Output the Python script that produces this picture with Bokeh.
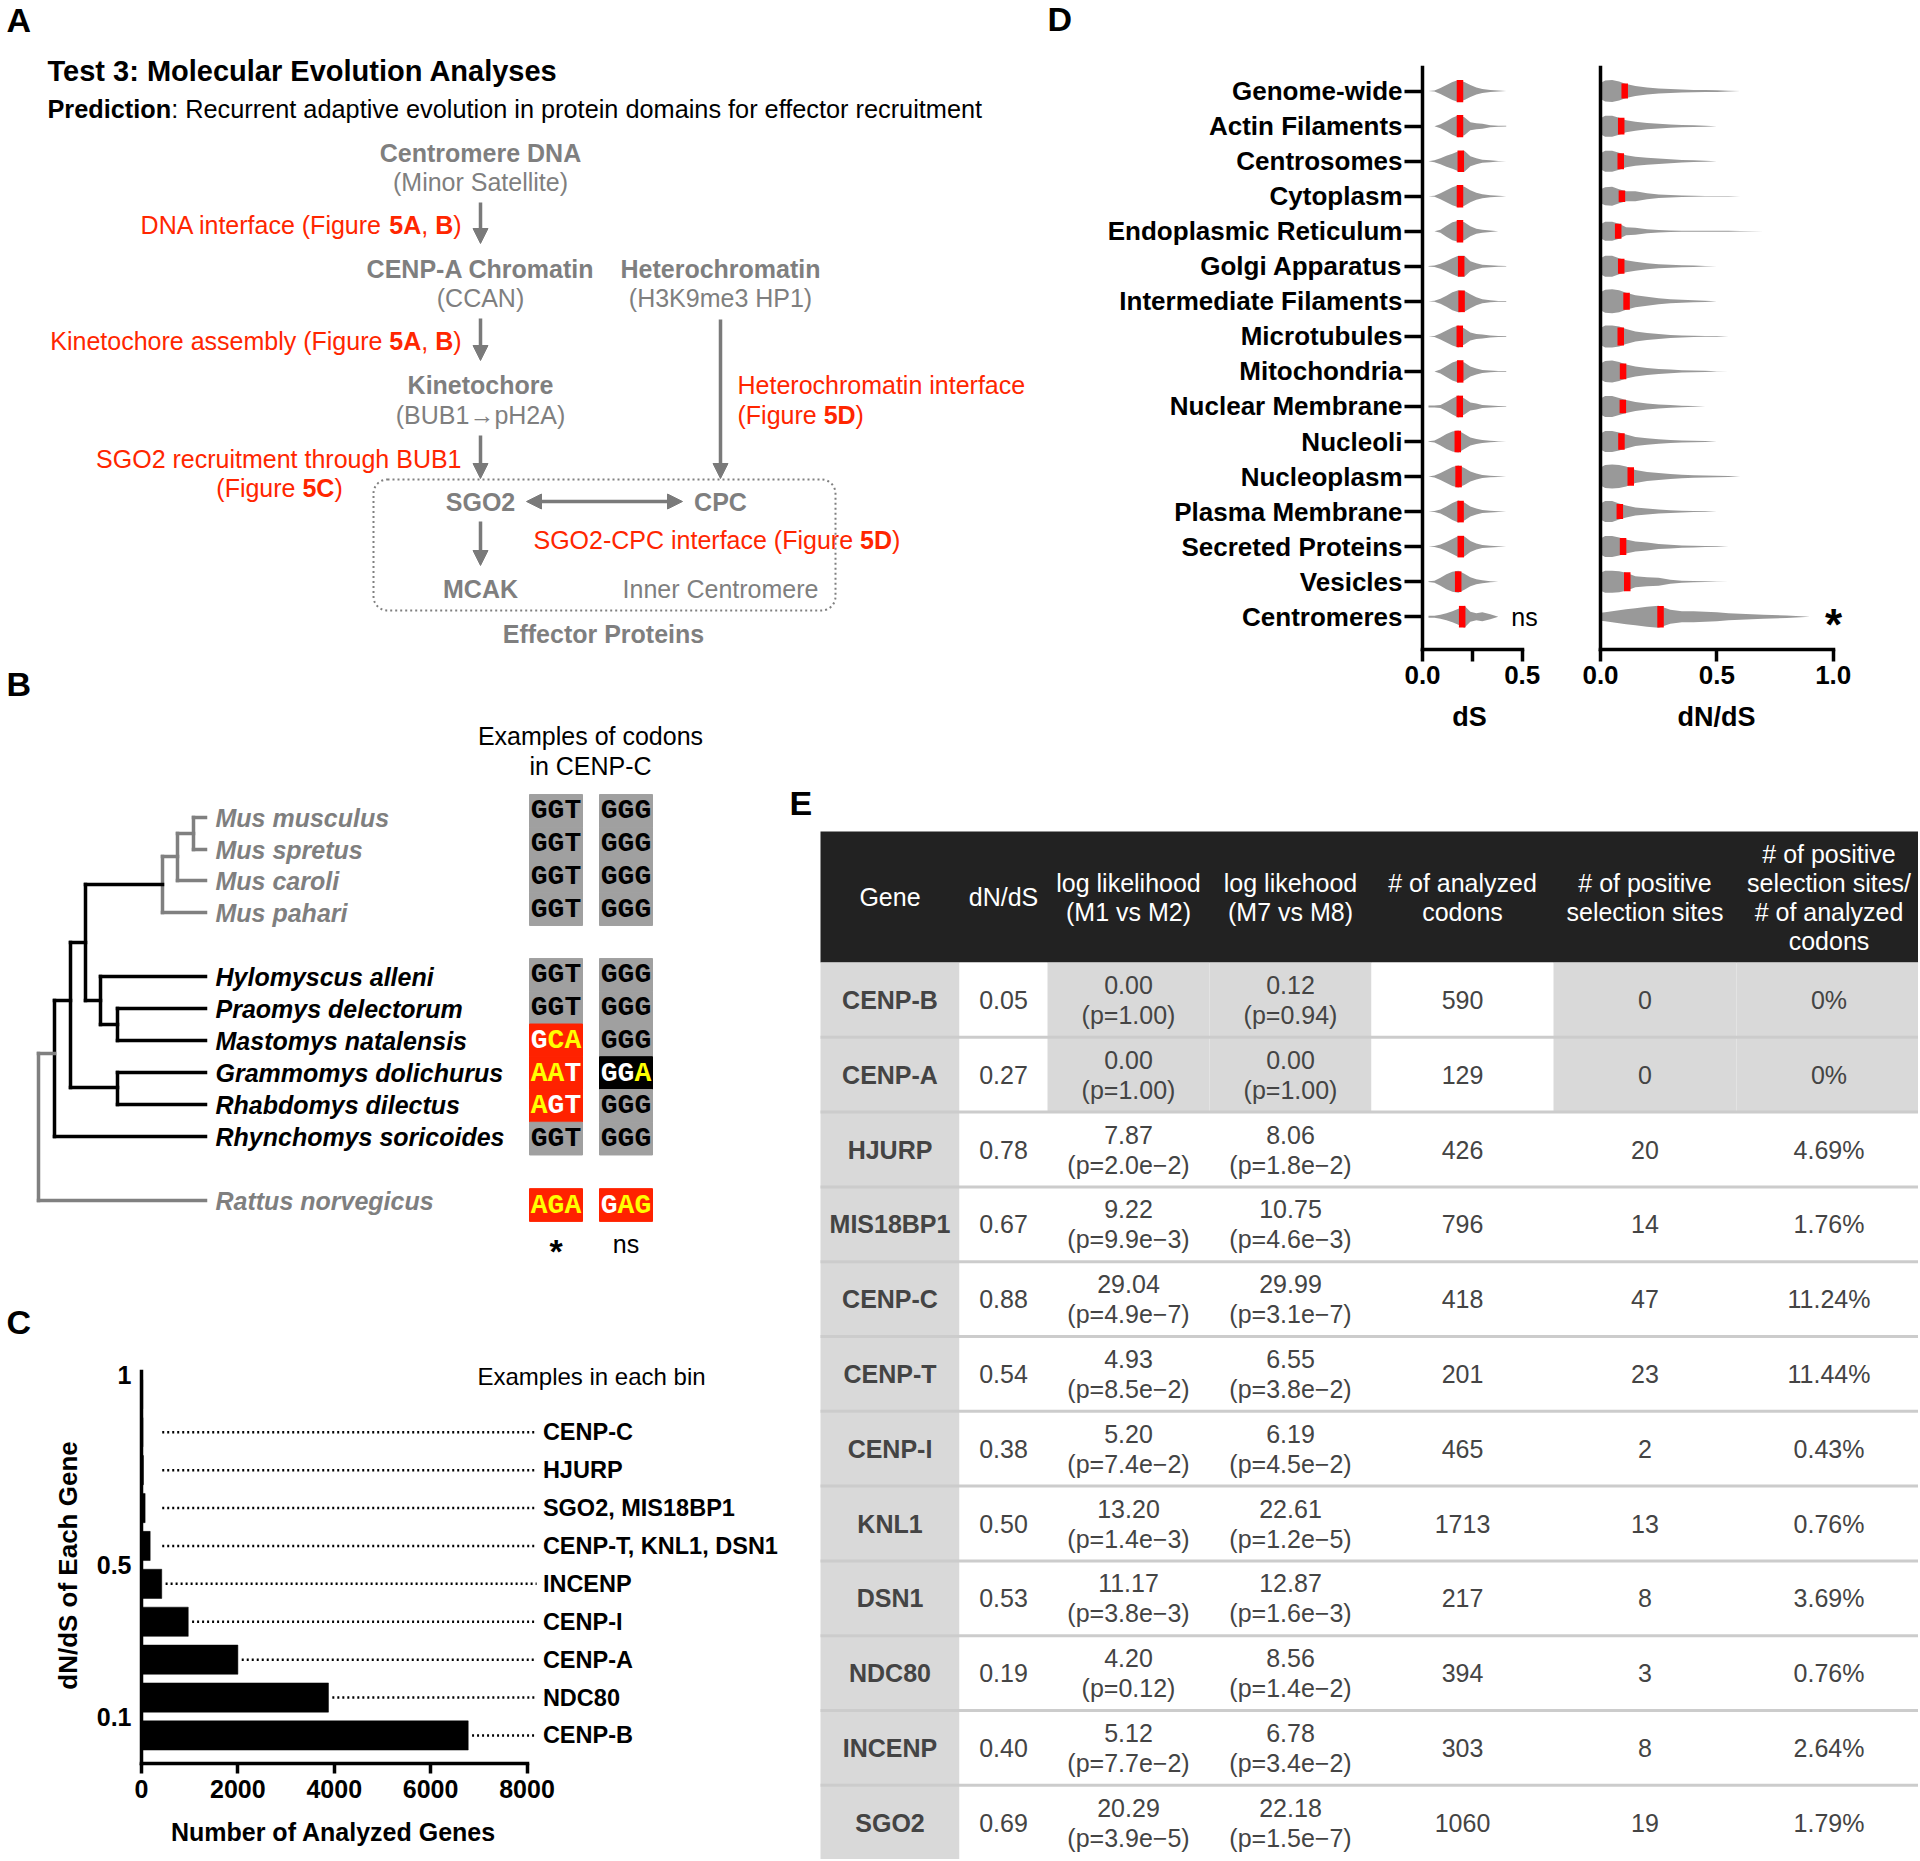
import math
from bokeh.plotting import figure
from bokeh.models import (Range1d, GridBox, Arrow, NormalHead, LinearAxis,
                          FixedTicker, PrintfTickFormatter)
from bokeh.core.properties import value
from bokeh.embed import file_html
from bokeh.resources import INLINE

# ===================== DATA =====================
# Panel B
b_species = ["Mus musculus", "Mus spretus", "Mus caroli", "Mus pahari",
             "Hylomyscus alleni", "Praomys delectorum", "Mastomys natalensis",
             "Grammomys dolichurus", "Rhabdomys dilectus", "Rhynchomys soricoides",
             "Rattus norvegicus"]
b_codon_1 = ["GGT", "GGT", "GGT", "GGT", "GGT", "GGT", "GCA", "AAT", "AGT", "GGT", "AGA"]
b_codon_2 = ["GGG", "GGG", "GGG", "GGG", "GGG", "GGG", "GGG", "GGA", "GGG", "GGG", "GAG"]
b_tests = ["*", "ns"]

# Panel C
c_bins = [0.05, 0.15, 0.25, 0.35, 0.45, 0.55, 0.65, 0.75, 0.85, 0.95]
c_counts = [6780, 3880, 2000, 970, 420, 180, 75, 40, 30, 25]
c_examples = ["CENP-B", "NDC80", "CENP-A", "CENP-I", "INCENP",
              "CENP-T, KNL1, DSN1", "SGO2, MIS18BP1", "HJURP", "CENP-C", ""]
c_xticks = [0, 2000, 4000, 6000, 8000]
c_yticks = [0.1, 0.5, 1]

# Panel D
d_categories = ["Genome-wide", "Actin Filaments", "Centrosomes", "Cytoplasm",
                "Endoplasmic Reticulum", "Golgi Apparatus", "Intermediate Filaments",
                "Microtubules", "Mitochondria", "Nuclear Membrane", "Nucleoli",
                "Nucleoplasm", "Plasma Membrane", "Secreted Proteins", "Vesicles",
                "Centromeres"]
d_ds_median = [0.188, 0.188, 0.192, 0.188, 0.188, 0.194, 0.196, 0.187,
               0.189, 0.187, 0.177, 0.181, 0.191, 0.192, 0.179, 0.199]
d_dnds_median = [0.104, 0.089, 0.087, 0.092, 0.076, 0.089, 0.112, 0.087,
                 0.097, 0.096, 0.090, 0.130, 0.083, 0.097, 0.115, 0.258]
# violin half-widths (px at row scale) read at these dS / dN/dS values
d_ds_grid = [0.03, 0.06, 0.09, 0.12, 0.15, 0.18, 0.21, 0.24, 0.27, 0.30, 0.34, 0.38, 0.42]
d_ds_width = [
    [0, 0.5, 3, 6, 9, 11, 9, 6, 3.5, 2, 1, 0.5, 0],
    [0, 0, 2, 5, 8.5, 11, 9, 4, 3, 2.5, 1, 0.5, 0.3],
    [0, 1, 3, 5.5, 7.5, 10, 10.5, 5, 3, 1.5, 1, 0.3, 0],
    [0, 0.5, 3, 6, 9, 11, 9.5, 6, 3.5, 2, 1, 0.5, 0],
    [0, 0, 1.5, 5.5, 9, 10.5, 9, 5, 2.5, 1.5, 0.8, 0, 0],
    [0.3, 0.8, 2.5, 5, 8, 10.5, 10.5, 5, 3, 1.5, 1, 0.5, 0.3],
    [0, 0.5, 2.5, 5.5, 9, 11, 10.5, 7, 4, 2, 1, 0.3, 0.3],
    [0, 0.5, 3, 6, 9, 11, 8, 4, 2.5, 2, 1, 0.5, 0.3],
    [0, 0, 2, 5.5, 9, 11, 9, 5, 3, 1.5, 0.8, 0.3, 0.3],
    [1, 1, 1.5, 4.5, 8, 11, 8, 4, 3, 1.5, 1, 0.5, 0.3],
    [0.3, 1, 4, 7.5, 10, 11, 7.5, 4, 2.5, 1.5, 0.8, 0.3, 0],
    [0, 1, 3.5, 6.5, 9.5, 11, 8.5, 5, 3, 1.5, 0.8, 0.4, 0],
    [0, 0.5, 2, 5, 8.5, 11, 9, 5, 3, 1.5, 0.8, 0.3, 0],
    [0, 0.5, 2, 4.5, 7.5, 10.5, 10, 5.5, 3, 1.5, 0.8, 0.3, 0],
    [0.3, 1, 4, 7.5, 10, 11, 8, 4.5, 2.5, 1.5, 0.5, 0, 0],
    [1, 1, 2, 3.5, 5.5, 8, 11, 5, 3.5, 4.5, 2.5, 0, 0],
]
d_dnds_grid = [0, 0.02, 0.05, 0.08, 0.11, 0.15, 0.2, 0.25, 0.3, 0.35, 0.4, 0.45,
               0.5, 0.55, 0.6, 0.7, 0.8, 0.9]
d_dnds_width = [
    [8, 10.5, 11, 9.5, 7, 5, 3.5, 2.5, 2, 1.5, 1.2, 1, 0.8, 0.4, 0, 0, 0, 0],
    [8, 10.5, 10.5, 8.5, 6, 4.5, 3.2, 2.4, 1.7, 1.2, 0.9, 0.5, 0, 0, 0, 0, 0, 0],
    [8, 10.5, 10.5, 8.5, 6, 4.5, 3.5, 2.8, 2, 1.3, 0.9, 0.5, 0, 0, 0, 0, 0, 0],
    [7, 9, 9.5, 7, 5, 5, 3, 1.8, 1.2, 0.8, 0.5, 0.3, 0.2, 0.2, 0, 0, 0, 0],
    [7, 9.5, 9.5, 7.5, 4, 3.5, 2, 1.2, 0.8, 0.5, 0.4, 0.4, 0.4, 0.4, 0.3, 0, 0, 0],
    [8, 10.5, 10.5, 8, 6, 4.5, 3, 2, 1.5, 1, 0.7, 0.3, 0, 0, 0, 0, 0, 0],
    [9, 11.5, 12, 11, 8.5, 6, 4.5, 3, 2, 1.5, 1, 0.6, 0, 0, 0, 0, 0, 0],
    [8.5, 11, 11, 10, 7.5, 5, 3.5, 2.5, 1.5, 1, 0.6, 0.4, 0.3, 0, 0, 0, 0, 0],
    [8, 10.5, 11, 9.5, 7, 5, 3.5, 2.5, 1.8, 1.2, 0.8, 0.6, 0.2, 0, 0, 0, 0, 0],
    [8, 10.5, 10.5, 8.5, 6.5, 4.5, 3, 2, 1.4, 0.8, 0.4, 0, 0, 0, 0, 0, 0, 0],
    [8, 10.5, 10.5, 9, 7, 4.5, 3.2, 2.3, 1.6, 1, 0.7, 0.5, 0, 0, 0, 0, 0, 0],
    [9, 11.5, 12, 11.5, 10, 6.5, 4.5, 3.5, 2.5, 1.8, 1.3, 1, 0.7, 0.5, 0, 0, 0, 0],
    [8, 10.5, 10.5, 8, 6, 4, 3, 2, 1.4, 0.9, 0.5, 0.3, 0, 0, 0, 0, 0, 0],
    [8, 10.5, 10.5, 9, 7, 5, 4, 2.5, 1.8, 1.2, 0.8, 0.5, 0.3, 0, 0, 0, 0, 0],
    [9, 11, 11, 10.5, 9, 5.5, 4.5, 4, 2, 1, 0.6, 0.4, 0.2, 0, 0, 0, 0, 0],
    [4, 4.5, 5.5, 6.5, 7.5, 8.5, 10, 11, 7, 5.5, 5.5, 5, 4.5, 3.5, 3, 2, 1.2, 0],
]
d_ds_med_hw = [11.2, 11.2, 10.8, 11.2, 11.2, 10.3, 10.8, 10.8, 11.2, 10.8, 10.8,
               10.8, 10.8, 10.8, 10.3, 10.8]
d_dnds_med_hw = [7.5, 8.3, 8, 5.8, 7.5, 7.5, 8.5, 9, 7.8, 6.8, 8.3, 9.2, 7.5, 8.5, 9.5, 10.8]
d_tests = ["ns", "*"]

# Panel E
e_genes = ["CENP-B", "CENP-A", "HJURP", "MIS18BP1", "CENP-C", "CENP-T", "CENP-I",
           "KNL1", "DSN1", "NDC80", "INCENP", "SGO2"]
e_dnds = [0.05, 0.27, 0.78, 0.67, 0.88, 0.54, 0.38, 0.50, 0.53, 0.19, 0.40, 0.69]
e_ll_m1m2 = [0.00, 0.00, 7.87, 9.22, 29.04, 4.93, 5.20, 13.20, 11.17, 4.20, 5.12, 20.29]
e_p_m1m2 = ["1.00", "1.00", "2.0e\u22122", "9.9e\u22123", "4.9e\u22127", "8.5e\u22122",
            "7.4e\u22122", "1.4e\u22123", "3.8e\u22123", "0.12", "7.7e\u22122", "3.9e\u22125"]
e_ll_m7m8 = [0.12, 0.00, 8.06, 10.75, 29.99, 6.55, 6.19, 22.61, 12.87, 8.56, 6.78, 22.18]
e_p_m7m8 = ["0.94", "1.00", "1.8e\u22122", "4.6e\u22123", "3.1e\u22127", "3.8e\u22122",
            "4.5e\u22122", "1.2e\u22125", "1.6e\u22123", "1.4e\u22122", "3.4e\u22122", "1.5e\u22127"]
e_codons = [590, 129, 426, 796, 418, 201, 465, 1713, 217, 394, 303, 1060]
e_sites = [0, 0, 20, 14, 47, 23, 2, 13, 8, 3, 8, 19]
e_pct = [0, 0, 4.69, 1.76, 11.24, 11.44, 0.43, 0.76, 3.69, 0.76, 2.64, 1.79]
e_header = [["Gene"], ["dN/dS"], ["log likelihood", "(M1 vs M2)"],
            ["log likehood", "(M7 vs M8)"], ["# of analyzed", "codons"],
            ["# of positive", "selection sites"],
            ["# of positive", "selection sites/", "# of analyzed", "codons"]]

# ===================== LAYOUT / STYLE =====================
K = 1.0                         # screen px per reference px
COL_REF = [0, 786, 1040, 1575, 1918]
ROW_REF = [0, 655, 770, 1285, 1859]
COL_PX = [round(c * K) for c in COL_REF]
ROW_PX = [round(r * K) for r in ROW_REF]
SANS = "Liberation Sans"
MONO = "Liberation Mono"
GRAY_T = "#7f7f7f"
RED_T = "#ff2600"


def fs(n):
    return f"{n * K:.1f}px"


# Helvetica/Arial advance widths (1/1000 em)
_R = dict(zip("abcdefghijklmnopqrstuvwxyz",
              [556, 556, 500, 556, 556, 278, 556, 556, 222, 222, 500, 222, 833, 556, 556,
               556, 556, 333, 500, 278, 556, 500, 722, 500, 500, 500]))
_R.update(zip("ABCDEFGHIJKLMNOPQRSTUVWXYZ",
              [667, 667, 722, 722, 667, 611, 778, 722, 278, 500, 667, 556, 833, 722, 778,
               667, 778, 722, 667, 611, 722, 667, 944, 667, 667, 611]))
_R.update({" ": 278, "(": 333, ")": 333, ",": 278, "-": 333, ":": 278, ".": 278})
_R.update({d: 556 for d in "0123456789"})
_B = dict(zip("abcdefghijklmnopqrstuvwxyz",
              [556, 611, 556, 611, 556, 333, 611, 611, 278, 278, 556, 278, 889, 611, 611,
               611, 611, 389, 556, 333, 611, 556, 778, 556, 556, 500]))
_B.update(zip("ABCDEFGHIJKLMNOPQRSTUVWXYZ",
              [722, 722, 722, 722, 667, 611, 778, 722, 278, 556, 722, 611, 833, 722, 778,
               667, 778, 722, 667, 611, 722, 667, 944, 667, 667, 611]))
_B.update({" ": 278, "(": 333, ")": 333, ",": 278, "-": 333, ":": 333, ".": 278})
_B.update({d: 556 for d in "0123456789"})


def twidth(s, bold, size):
    tab = _B if bold else _R
    return sum(tab.get(ch, 556) for ch in s) / 1000.0 * size


def style_of(bold, italic=False):
    if bold and italic:
        return "bold italic"
    if bold:
        return "bold"
    if italic:
        return "italic"
    return "normal"


class Panel:
    """A figure filling one grid area; fx/fy map reference pixels to data values."""

    def __init__(self, c0, c1, r0, r1, fx=lambda v: v, fy=lambda v: v):
        w = COL_PX[c1] - COL_PX[c0]
        h = ROW_PX[r1] - ROW_PX[r0]
        X0, X1 = COL_PX[c0] / K, COL_PX[c1] / K
        Y0, Y1 = ROW_PX[r0] / K, ROW_PX[r1] / K
        self.fx, self.fy = fx, fy
        p = figure(width=w, height=h, x_range=Range1d(fx(X0), fx(X1)),
                   y_range=Range1d(fy(Y1), fy(Y0)), output_backend="svg",
                   toolbar_location=None, tools="", x_axis_location=None,
                   y_axis_location=None, min_border=0, title=None)
        if hasattr(p, "frame_align"):
            p.frame_align = False
        p.grid.visible = False
        p.outline_line_color = None
        p.background_fill_color = "white"
        p.border_fill_color = "white"
        self.p = p

    def txt(self, x, y, s, size=25, bold=False, italic=False, color="black",
            align="left", font=SANS, angle=0.0):
        self.p.text(x=[self.fx(x)], y=[self.fy(y)], text=[s], text_font=value(font),
                    text_font_size=fs(size), text_font_style=style_of(bold, italic),
                    text_color=color, text_align=align, text_baseline="middle",
                    angle=angle)

    def rich(self, x, y, pieces, align, size, color):
        total = sum(twidth(s, b, size) for s, b in pieces)
        start = x if align == "left" else (x - total if align == "right" else x - total / 2)
        for s, b in pieces:
            self.txt(start, y, s, size, bold=b, color=color, align="left")
            start += twidth(s, b, size)


def style_axis(ax, size=25):
    ax.axis_line_width = 3.5
    ax.axis_line_color = "black"
    ax.axis_line_cap = "square"
    ax.major_tick_line_width = 3.5
    ax.major_tick_line_color = "black"
    ax.major_tick_in = 0
    ax.minor_tick_line_color = None
    ax.major_label_text_font = SANS
    ax.major_label_text_font_style = "bold"
    ax.major_label_text_font_size = fs(size)
    ax.major_label_text_color = "black"


# ===================== PANEL A =====================
A = Panel(0, 2, 0, 1)
pA = A.p
A.txt(6, 19, "A", 34, bold=True)
A.txt(47, 70, "Test 3: Molecular Evolution Analyses", 29, bold=True)
A.rich(47, 108, [("Prediction", True),
                 (": Recurrent adaptive evolution in protein domains for effector recruitment", False)],
       "left", 25.3, "black")
for x, y, s, b in [(480, 152, "Centromere DNA", True), (480, 181, "(Minor Satellite)", False),
                   (480, 268, "CENP-A Chromatin", True), (480, 297, "(CCAN)", False),
                   (720, 268, "Heterochromatin", True), (720, 297, "(H3K9me3 HP1)", False),
                   (480, 384, "Kinetochore", True), (480, 414, "(BUB1\u2192pH2A)", False),
                   (480, 501, "SGO2", True), (720, 501, "CPC", True),
                   (480, 588, "MCAK", True), (720, 588, "Inner Centromere", False),
                   (603, 633, "Effector Proteins", True)]:
    A.txt(x, y, s, 25, bold=b, color=GRAY_T, align="center")
A.rich(461, 224, [("DNA interface (Figure ", False), ("5A", True), (", ", False),
                  ("B", True), (")", False)], "right", 25, RED_T)
A.rich(461, 340, [("Kinetochore assembly (Figure ", False), ("5A", True), (", ", False),
                  ("B", True), (")", False)], "right", 25, RED_T)
A.rich(461, 458, [("SGO2 recruitment through BUB1", False)], "right", 25, RED_T)
A.rich(279, 487, [("(Figure ", False), ("5C", True), (")", False)], "center", 25, RED_T)
A.rich(737, 384, [("Heterochromatin interface", False)], "left", 25, RED_T)
A.rich(737, 414, [("(Figure ", False), ("5D", True), (")", False)], "left", 25, RED_T)
A.rich(533, 539, [("SGO2-CPC interface (Figure ", False), ("5D", True), (")", False)],
       "left", 25, RED_T)
AG = "#7a7a7a"
for xs_, ys_, xe_, ye_ in [(480, 202, 480, 243), (480, 318, 480, 360), (480, 435, 480, 478),
                           (720, 319, 720, 478), (480, 521, 480, 565)]:
    pA.add_layout(Arrow(end=NormalHead(size=15, fill_color=AG, line_color=AG),
                        x_start=xs_, y_start=ys_, x_end=xe_, y_end=ye_,
                        line_color=AG, line_width=3.5))
pA.add_layout(Arrow(start=NormalHead(size=15, fill_color=AG, line_color=AG),
                    end=NormalHead(size=15, fill_color=AG, line_color=AG),
                    x_start=526, y_start=501, x_end=682, y_end=501,
                    line_color=AG, line_width=3.5))
pA.quad(left=[373], right=[835], top=[479], bottom=[610], fill_color=None,
        line_color="#808080", line_width=2, line_dash="2 3", border_radius=14)

# ===================== PANEL B =====================
Bp = Panel(0, 1, 1, 3)
pB = Bp.p
Bp.txt(6, 683, "B", 34, bold=True)
Bp.txt(590, 735, "Examples of codons", 25, align="center")
Bp.txt(590, 765, "in CENP-C", 25, align="center")
b_species_y = [817, 849, 880, 912, 976, 1008, 1040, 1072, 1104, 1136, 1200]
b_codon_y = [810.4, 843.1, 875.9, 908.6, 974.4, 1007.1, 1039.9, 1072.6, 1105.4, 1138.1, 1204.5]
b_species_col = [GRAY_T] * 4 + ["black"] * 6 + [GRAY_T]
TG, TK = "#808080", "black"
tree = [  # x0, y0, x1, y1, color
    (193, 817, 205, 817, TG), (193, 849, 205, 849, TG), (193, 817, 193, 849, TG),
    (177, 833, 193, 833, TG), (177, 833, 177, 880, TG), (177, 880, 205, 880, TG),
    (162, 856, 177, 856, TG), (162, 856, 162, 912, TG), (162, 912, 205, 912, TG),
    (85, 884, 162, 884, TK), (85, 884, 85, 1000, TK), (85, 1000, 100, 1000, TK),
    (100, 976, 100, 1024, TK), (100, 976, 205, 976, TK), (100, 1024, 117, 1024, TK),
    (117, 1008, 117, 1040, TK), (117, 1008, 205, 1008, TK), (117, 1040, 205, 1040, TK),
    (70, 942, 85, 942, TK), (70, 942, 70, 1087, TK), (70, 1087, 117, 1087, TK),
    (117, 1072, 117, 1104, TK), (117, 1072, 205, 1072, TK), (117, 1104, 205, 1104, TK),
    (54, 1000, 70, 1000, TK), (54, 1000, 54, 1136, TK), (54, 1136, 205, 1136, TK),
    (38, 1053, 54, 1053, TG), (38, 1053, 38, 1200, TG), (38, 1200, 205, 1200, TG),
]
pB.segment(x0=[t[0] for t in tree], y0=[t[1] for t in tree],
           x1=[t[2] for t in tree], y1=[t[3] for t in tree],
           line_color=[t[4] for t in tree], line_width=3.5, line_cap="square")
pB.text(x=[215] * len(b_species), y=b_species_y, text=b_species,
        text_font=value(SANS), text_font_size=fs(25), text_font_style="bold italic",
        text_color=b_species_col, text_align="left", text_baseline="middle")

BG = {"g": "#a0a0a0", "r": "#ff2200", "b": "#000000"}
FG = {"k": "#000000", "w": "#ffffff", "y": "#ffff00"}
b_bg_1 = ["g"] * 6 + ["r", "r", "r", "g", "r"]
b_fg_1 = ["kkk"] * 6 + ["wyy", "yyw", "yww", "kkk", "yyy"]
b_bg_2 = ["g"] * 7 + ["b", "g", "g", "r"]
b_fg_2 = ["kkk"] * 7 + ["wwy", "kkk", "kkk", "wyy"]
CODON_X = [555.5, 625.5]
CODON_FS = 28
cx_, cy_, ct_, cc_ = [], [], [], []
for col, (codons, bgs, fgs) in enumerate([(b_codon_1, b_bg_1, b_fg_1), (b_codon_2, b_bg_2, b_fg_2)]):
    fills = [BG[b] for b in bgs]
    pB.rect(x=[CODON_X[col]] * len(codons), y=b_codon_y, width=53, height=32.75,
            fill_color=fills, line_color=fills, line_width=1)
    for r, cod in enumerate(codons):
        for k, ch in enumerate(cod):
            cx_.append(CODON_X[col] + (k - 1) * 0.6 * CODON_FS)
            cy_.append(b_codon_y[r])
            ct_.append(ch)
            cc_.append(FG[fgs[r][k]])
pB.text(x=cx_, y=cy_, text=ct_, text_font=value(MONO), text_font_size=fs(CODON_FS),
        text_font_style="bold", text_color=cc_, text_align="center", text_baseline="middle")
Bp.txt(CODON_X[0], 1250, b_tests[0], 34, bold=True, align="center")
Bp.txt(CODON_X[1], 1243, b_tests[1], 25, align="center")

# ===================== PANEL C =====================
C_PPU_X = 385.5 / 8000.0     # ref px per gene
C_PPU_Y = 379.0              # ref px per dN/dS unit
C_YMIN = -0.024
C_X0REF, C_Y0REF, C_YTOPREF = 141, 1763, 1371
Cp = Panel(0, 1, 3, 4, fx=lambda v: (v - C_X0REF) / C_PPU_X,
           fy=lambda v: C_YMIN + (C_Y0REF - v) / C_PPU_Y)
pC = Cp.p
pC.hbar(y=c_bins, left=0, right=c_counts, height=0.077, fill_color="black",
        line_color="black", line_width=0.5)
lab_idx = [i for i, s in enumerate(c_examples) if s]
pC.segment(x0=[max(c_counts[i], 350) + 80 for i in lab_idx], y0=[c_bins[i] for i in lab_idx],
           x1=[8200] * len(lab_idx), y1=[c_bins[i] for i in lab_idx],
           line_color="black", line_width=2.5, line_dash="2 3")
pC.text(x=[8330] * len(lab_idx), y=[c_bins[i] for i in lab_idx],
        text=[c_examples[i] for i in lab_idx], text_font=value(SANS), text_font_size=fs(23.5),
        text_font_style="bold", text_color="black", text_align="left", text_baseline="middle")
Cp.txt(591, 1376, "Examples in each bin", 24, align="center")
Cp.txt(6, 1321, "C", 34, bold=True)
Cp.txt(333, 1831, "Number of Analyzed Genes", 25, bold=True, align="center")
Cp.txt(67, 1565, "dN/dS of Each Gene", 26, bold=True, align="center", angle=math.pi / 2)
xa = LinearAxis(fixed_location=C_YMIN, bounds=(0, 8000), ticker=FixedTicker(ticks=c_xticks))
style_axis(xa, 25)
xa.major_tick_out = 10
xa.major_label_standoff = 6
pC.add_layout(xa, "below")
ya = LinearAxis(fixed_location=0, bounds=(C_YMIN, C_YMIN + (C_Y0REF - C_YTOPREF) / C_PPU_Y),
                ticker=FixedTicker(ticks=c_yticks), formatter=PrintfTickFormatter(format="%g"))
style_axis(ya, 25)
ya.major_tick_out = 0
ya.major_label_standoff = 10
pC.add_layout(ya, "left")

# ===================== PANEL D =====================
D_ROW = 35.04                 # ref px per category row
D_Y0REF = 616.2               # ref y of the last category (value 0)
N = len(d_categories)
D_YBOT = (D_Y0REF - 649) / D_ROW
D_YTOP = (D_Y0REF - 67) / D_ROW


def violins(p, grid, widths, med, med_hw, color="#999999"):
    xs, ys = [], []
    for i in range(N):
        yc = N - 1 - i
        w = widths[i]
        xs.append(list(grid) + list(grid)[::-1])
        ys.append([yc + v / D_ROW for v in w] + [yc - v / D_ROW for v in w[::-1]])
    p.patches(xs, ys, fill_color=color, line_color=None)
    p.rect(x=med, y=[N - 1 - i for i in range(N)], width=6.5 * K, width_units="screen",
           height=[2 * h / D_ROW for h in med_hw], fill_color="#ff0000", line_color=None)


D1_X0REF, D1_PPU = 1422, 199.4
D1 = Panel(2, 3, 0, 2, fx=lambda v: (v - D1_X0REF) / D1_PPU,
           fy=lambda v: (D_Y0REF - v) / D_ROW)
pD1 = D1.p
violins(pD1, d_ds_grid, d_ds_width, d_ds_median, d_ds_med_hw)
xa = LinearAxis(fixed_location=D_YBOT, bounds=(0, 0.5),
                ticker=FixedTicker(ticks=[0, 0.5], minor_ticks=[0.25]),
                formatter=PrintfTickFormatter(format="%.1f"))
style_axis(xa, 26)
xa.major_tick_out = 12
xa.minor_tick_out = 12
xa.minor_tick_in = 0
xa.minor_tick_line_color = "black"
xa.minor_tick_line_width = 3.5
xa.major_label_standoff = 4
pD1.add_layout(xa, "below")
ya = LinearAxis(fixed_location=0, bounds=(D_YBOT, D_YTOP),
                ticker=FixedTicker(ticks=list(range(N))))
style_axis(ya, 26)
ya.major_label_overrides = {N - 1 - i: name for i, name in enumerate(d_categories)}
ya.major_tick_out = 18
ya.major_label_standoff = 2
pD1.add_layout(ya, "left")
D1.txt(1047, 18, "D", 34, bold=True)
D1.txt(1524, 616, d_tests[0], 25, align="center")
D1.txt(1469, 716, "dS", 27, bold=True, align="center")

D2_X0REF, D2_PPU = 1600, 232.7
D2 = Panel(3, 4, 0, 2, fx=lambda v: (v - D2_X0REF) / D2_PPU,
           fy=lambda v: (D_Y0REF - v) / D_ROW)
pD2 = D2.p
violins(pD2, d_dnds_grid, d_dnds_width, d_dnds_median, d_dnds_med_hw)
xa = LinearAxis(fixed_location=D_YBOT, bounds=(0, 1.0),
                ticker=FixedTicker(ticks=[0, 0.5, 1.0]),
                formatter=PrintfTickFormatter(format="%.1f"))
style_axis(xa, 26)
xa.major_tick_out = 12
xa.major_label_standoff = 4
pD2.add_layout(xa, "below")
ya = LinearAxis(fixed_location=0, bounds=(D_YBOT, D_YTOP), ticker=FixedTicker(ticks=[]))
style_axis(ya, 26)
ya.major_tick_out = 0
pD2.add_layout(ya, "left")
D2.txt(1833, 624, d_tests[1], 44, bold=True, align="center")
D2.txt(1716, 716, "dN/dS", 27, bold=True, align="center")

# ===================== PANEL E =====================
Ep = Panel(1, 4, 2, 4)
pE = Ep.p
Ep.txt(789, 802, "E", 34, bold=True)
E_COLS = [820, 959, 1047, 1209, 1371, 1553, 1736, 1921]
E_HEAD_TOP, E_HEAD_BOT = 831, 962
E_ROWH = 74.8
nrow = len(e_genes)
pE.quad(left=[E_COLS[0]], right=[E_COLS[-1]], top=[E_HEAD_TOP], bottom=[E_HEAD_BOT],
        fill_color="#222222", line_color=None)
ql, qr, qt, qb, qc = [], [], [], [], []
for r in range(nrow):
    top = E_HEAD_BOT + r * E_ROWH
    for j in range(7):
        shaded = (j == 0) or (e_sites[r] == 0 and j in (2, 3, 5, 6))
        ql.append(E_COLS[j]); qr.append(E_COLS[j + 1])
        qt.append(top); qb.append(top + E_ROWH)
        qc.append("#d9d9d9" if shaded else "#ffffff")
pE.quad(left=ql, right=qr, top=qt, bottom=qb, fill_color=qc, line_color=None)
sep_y = [E_HEAD_BOT + r * E_ROWH for r in range(1, nrow)]
pE.segment(x0=[E_COLS[0]] * len(sep_y), y0=sep_y, x1=[E_COLS[-1]] * len(sep_y), y1=sep_y,
           line_color="#cccccc", line_width=3)
ccen = [(E_COLS[j] + E_COLS[j + 1]) / 2 for j in range(7)]
hmid = (E_HEAD_TOP + E_HEAD_BOT) / 2
hx, hy, ht = [], [], []
for j, lines in enumerate(e_header):
    n = len(lines)
    for k, s in enumerate(lines):
        hx.append(ccen[j]); hy.append(hmid + (k - (n - 1) / 2) * 29); ht.append(s)
pE.text(x=hx, y=hy, text=ht, text_font=value(SANS), text_font_size=fs(25),
        text_color="white", text_align="center", text_baseline="middle")
rc = [E_HEAD_BOT + (r + 0.5) * E_ROWH for r in range(nrow)]
pE.text(x=[ccen[0]] * nrow, y=rc, text=e_genes, text_font=value(SANS),
        text_font_size=fs(25), text_font_style="bold", text_color="#444444",
        text_align="center", text_baseline="middle")
vx, vy, vt = [], [], []
for r in range(nrow):
    single = [(1, f"{e_dnds[r]:.2f}"), (4, f"{e_codons[r]}"), (5, f"{e_sites[r]}"),
              (6, "0%" if e_pct[r] == 0 else f"{e_pct[r]:.2f}%")]
    for j, s in single:
        vx.append(ccen[j]); vy.append(rc[r]); vt.append(s)
    for j, ll, pv in [(2, e_ll_m1m2[r], e_p_m1m2[r]), (3, e_ll_m7m8[r], e_p_m7m8[r])]:
        vx += [ccen[j], ccen[j]]
        vy += [rc[r] - 15, rc[r] + 15]
        vt += [f"{ll:.2f}", f"(p={pv})"]
pE.text(x=vx, y=vy, text=vt, text_font=value(SANS), text_font_size=fs(25),
        text_color="#444444", text_align="center", text_baseline="middle")

# ===================== ASSEMBLE =====================
col_w = [COL_PX[i + 1] - COL_PX[i] for i in range(4)]
row_h = [ROW_PX[i + 1] - ROW_PX[i] for i in range(4)]
grid = GridBox(children=[(pA, 0, 0, 1, 2), (pB, 1, 0, 2, 1), (pC, 3, 0, 1, 1),
                         (pD1, 0, 2, 2, 1), (pD2, 0, 3, 2, 1), (pE, 2, 1, 2, 3)],
               cols=[f"{w}px" for w in col_w], rows=[f"{h}px" for h in row_h], spacing=0)

open("out.html", "w").write(file_html(grid, INLINE))
